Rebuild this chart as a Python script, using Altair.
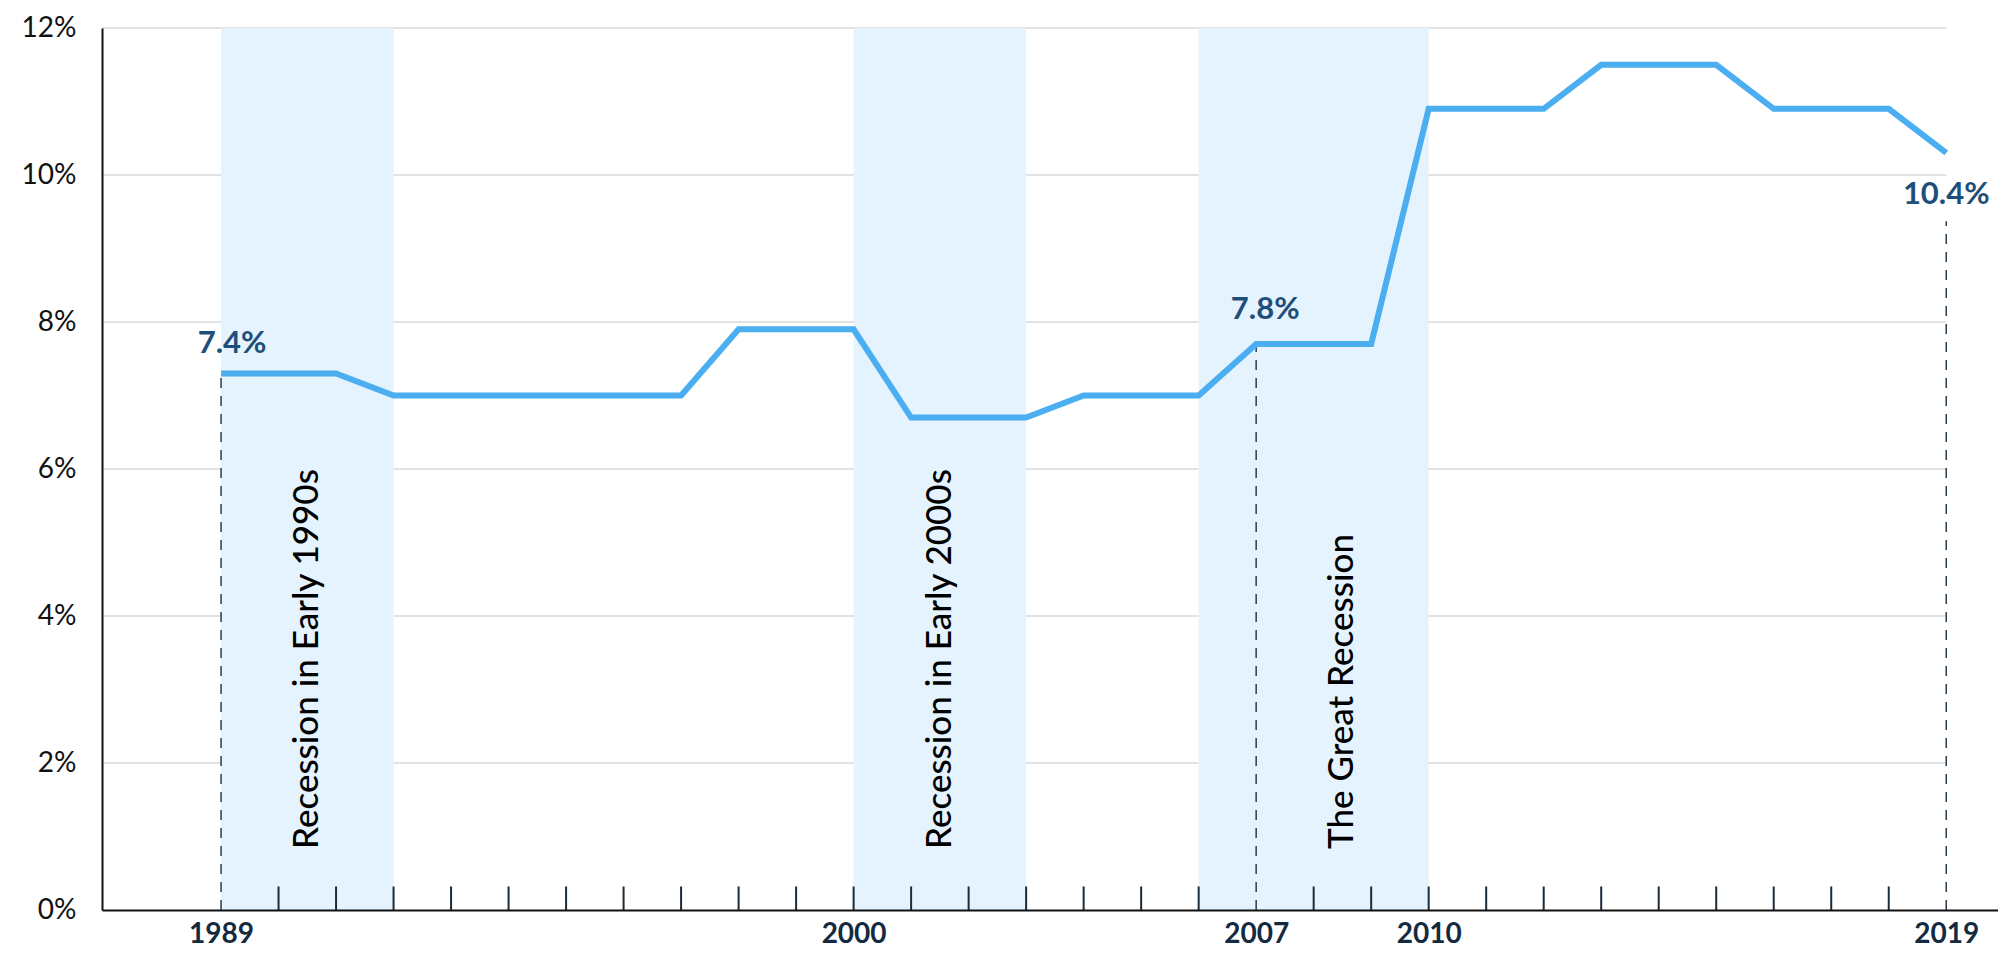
import altair as alt
import pandas as pd

# ---- data ----
years = list(range(1989, 2020))
rates = [7.3, 7.3, 7.3, 7.0, 7.0, 7.0, 7.0, 7.0, 7.0, 7.9, 7.9, 7.9,
         6.7, 6.7, 6.7, 7.0, 7.0, 7.0, 7.7, 7.7, 7.7, 10.9, 10.9, 10.9,
         11.5, 11.5, 11.5, 10.9, 10.9, 10.9, 10.3]

recession_start = [1989, 2000, 2006]
recession_end = [1992, 2003, 2010]
recession_labels = ["Recession in Early 1990s", "Recession in Early 2000s", "The Great Recession"]
recession_mid = [1990.5, 2001.5, 2008.5]

marker_years = [1989, 2007, 2019]
marker_tops = [7.3, 7.7, 9.37]
marker_labels = ["7.4%", "7.8%", "10.4%"]

x_label_years = [1989, 2000, 2007, 2010, 2019]
y_ticks = [0, 2, 4, 6, 8, 10, 12]
grid_values = [2, 4, 6, 8, 10, 12]
tick_years = [y for y in range(1990, 2019) if y != 2007]

X_MIN, X_MAX = 1986.93, 2019.9
GRID_END = 2019

W, H = 1896, 882
FONT = "Lato"

xs = alt.Scale(domain=[X_MIN, X_MAX], nice=False, zero=False)
ys = alt.Scale(domain=[0, 12], nice=False, zero=True)

x_axis = alt.Axis(values=x_label_years, format="d", ticks=False, grid=False, title=None,
                  domainColor="#111111", domainWidth=2, labelFont=FONT,
                  labelFontSize=28, labelFontWeight="bold", labelColor="#132a40",
                  labelPadding=10, labelFlush=False, labelOverlap=False, zindex=1)
y_axis = alt.Axis(values=y_ticks, labelExpr="datum.value + '%'", ticks=False, grid=False, title=None,
                  domainColor="#111111", domainWidth=2, labelFont=FONT,
                  labelFontSize=28, labelColor="#111111", labelPadding=26,
                  labelFlush=False, labelOverlap=False, zindex=1)

line_df = pd.DataFrame({"year": years, "rate": rates})
grid_df = pd.DataFrame({"v": grid_values, "x0": [X_MIN] * len(grid_values), "x1": [GRID_END] * len(grid_values)})
rec_df = pd.DataFrame({"s": recession_start, "e": recession_end, "y0": [0] * 3, "y1": [12] * 3})
rec_lab_df = pd.DataFrame({"x": recession_mid, "label": recession_labels, "y": [0.83] * 3})
tick_df = pd.DataFrame({"x": tick_years, "y0": [0] * len(tick_years), "y1": [0.32] * len(tick_years)})
mark_df = pd.DataFrame({"x": marker_years, "y0": [0] * 3, "y1": marker_tops})


def X(field):
    return alt.X(field, scale=xs, axis=x_axis, title=None)


def Y(field):
    return alt.Y(field, scale=ys, axis=y_axis, title=None)


grid = alt.Chart(grid_df).mark_rule(color="#d9d9d9", strokeWidth=1.5).encode(
    x=X("x0:Q"), x2="x1:Q", y=Y("v:Q"),
)

shade = alt.Chart(rec_df).mark_rect(color="#e4f3fd").encode(
    x=X("s:Q"), x2="e:Q", y=Y("y0:Q"), y2="y1:Q",
)

ticks = alt.Chart(tick_df).mark_rule(color="#1c2b3a", strokeWidth=2).encode(
    x=X("x:Q"), y=Y("y0:Q"), y2="y1:Q",
)

dashes = alt.Chart(mark_df).mark_rule(color="#2a3d52", strokeWidth=1.5, strokeDash=[10, 8]).encode(
    x=X("x:Q"), y=Y("y0:Q"), y2="y1:Q",
)

line = alt.Chart(line_df).mark_line(color="#4aaef0", strokeWidth=6, strokeJoin="miter").encode(
    x=X("year:Q"), y=Y("rate:Q"),
)

rec_text = alt.Chart(rec_lab_df).mark_text(
    angle=270, align="left", baseline="middle", font=FONT, fontSize=35, fontWeight=500, color="#000000"
).encode(
    x=X("x:Q"), y=Y("y:Q"), text="label:N",
)


def value_label(i, dx, dy):
    d = pd.DataFrame({"x": [marker_years[i]], "y": [rates[years.index(marker_years[i])]], "t": [marker_labels[i]]})
    return alt.Chart(d).mark_text(
        align="center", baseline="alphabetic", font=FONT, fontSize=31, fontWeight="bold",
        color="#1d4f7a", dx=dx, dy=dy
    ).encode(
        x=X("x:Q"), y=Y("y:Q"), text="t:N",
    )


lab1 = value_label(0, 11, -20)
lab2 = value_label(1, 9, -25)
lab3 = value_label(2, 0, 51)

chart = alt.layer(grid, shade, ticks, dashes, line, rec_text, lab1, lab2, lab3).properties(
    width=W, height=H,
    padding={"left": 94, "top": 20, "right": 0, "bottom": 39},
    autosize=alt.AutoSizeParams(type="none"),
    background="white",
).configure_view(stroke=None)

chart.save("out.html", embed_options={"renderer": "svg", "actions": False})
